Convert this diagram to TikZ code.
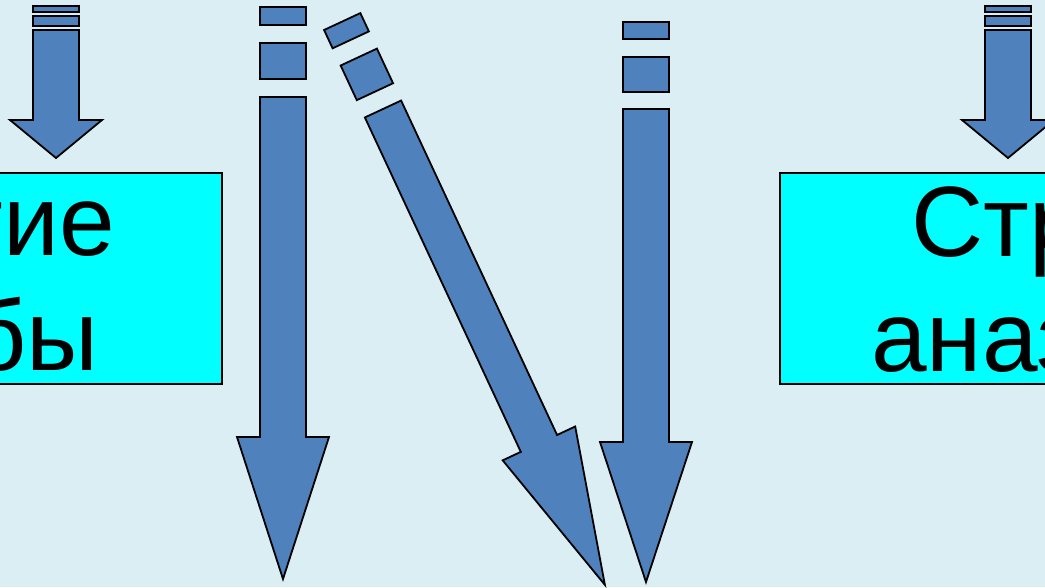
\documentclass[tikz,border=0pt]{standalone}
\usepackage{fontspec}
\setmainfont{Liberation Sans}
\definecolor{bgblue}{HTML}{DAEEF3}
\definecolor{arrowblue}{HTML}{4F81BD}
\definecolor{boxcyan}{HTML}{00FFFF}
\begin{document}
\begin{tikzpicture}[x=1pt,y=-1pt,
  arrowpart/.style={fill=arrowblue,draw=black,line width=1.8pt,line join=miter},
  boxshape/.style={fill=boxcyan,draw=black,line width=1.5pt},
  bigtext/.style={inner sep=0pt,font=\fontsize{100}{115}\selectfont}]
\useasboundingbox (0,0) rectangle (1045,587);
\clip (0,0) rectangle (1045,587);
\fill[bgblue] (0,0) rectangle (1045,587);

% left box and arrow
\draw[boxshape] (-5,173) rectangle (222,384);
\node[bigtext, anchor=base east] (lefttop) at (115,255) {тие};
\node[bigtext, anchor=base east] (leftbot) at (99,370) {бы};
\draw[arrowpart] (33,6) rectangle (79,12);
\draw[arrowpart] (33,16) rectangle (79,26);
\draw[arrowpart] (33,30) -- (33,120) -- (10,120) -- (56,158) -- (102,120) -- (79,120) -- (79,30) -- cycle;

% right box and arrow
\draw[boxshape] (780,173) rectangle (1055,384);
\node[bigtext, anchor=base west] (righttop) at (911,256) {Стр};
\node[bigtext, anchor=base west] (rightbot) at (871,371) {аназ};
\draw[arrowpart] (985,6) rectangle (1031,12);
\draw[arrowpart] (985,16) rectangle (1031,26);
\draw[arrowpart] (985,30) -- (985,120) -- (962,120) -- (1008,158) -- (1054,120) -- (1031,120) -- (1031,30) -- cycle;

% long vertical arrow (left)
\draw[arrowpart] (260,7) rectangle (306,25);
\draw[arrowpart] (260,43) rectangle (306,79);
\draw[arrowpart] (260,97) -- (260,437) -- (237,437) -- (283,579) -- (329,437) -- (306,437) -- (306,97) -- cycle;

% long vertical arrow (right)
\draw[arrowpart] (623,22) rectangle (669,39);
\draw[arrowpart] (623,57) rectangle (669,92);
\draw[arrowpart] (623,109) -- (623,442) -- (600,442) -- (646,582) -- (692,442) -- (669,442) -- (669,109) -- cycle;

% diagonal arrow
\begin{scope}[shift={(383,109)},rotate=25]
\draw[arrowpart] (-20,-96.5) rectangle (20,-76.3);
\draw[arrowpart] (-20,-57.3) rectangle (20,-19.1);
\draw[arrowpart] (-20,0) -- (-20,369) -- (-40,369) -- (0,525) -- (40,369) -- (20,369) -- (20,0) -- cycle;
\end{scope}
\end{tikzpicture}
\end{document}
